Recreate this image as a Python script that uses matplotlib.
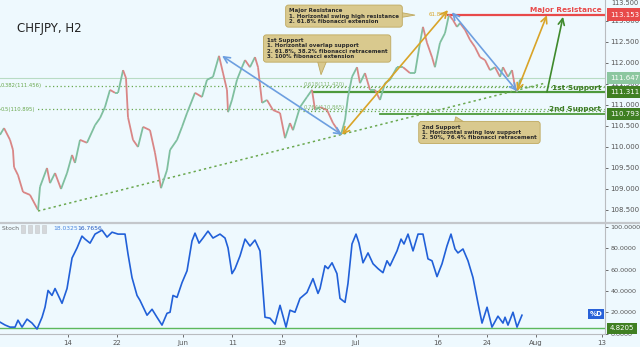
import numpy as np
import matplotlib.pyplot as plt
import matplotlib.transforms as mtransforms
from matplotlib.collections import LineCollection
from matplotlib.patches import Polygon
from matplotlib.lines import Line2D

# ============================================================
# DATA  (x = trading days counted from Mon 14 May 2018)
# ============================================================
price_day = [-8.28, -7.79, -7.06, -6.70, -6.57, -6.09, -5.48, -4.63, -3.65, -3.41,
             -2.56, -2.19, -1.58, -0.85, -0.12, 0.49, 0.85, 1.46, 2.31, 3.29,
             3.90, 4.50, 5.11, 5.72, 6.09, 6.70, 7.06, 7.30, 7.91, 8.52,
             9.13, 9.98, 10.59, 11.32, 12.05, 12.42, 13.27, 13.88, 14.49, 15.46,
             16.31, 16.92, 17.65, 18.38, 18.87, 19.35, 19.48, 19.96, 20.57, 21.18,
             21.55, 22.15, 22.76, 23.13, 23.62, 24.22, 24.95, 25.81, 26.42, 27.02,
             27.39, 28.24, 29.09, 29.70, 30.07, 30.68, 31.53, 32.26, 33.23, 33.72,
             34.08, 34.57, 35.18, 35.54, 36.15, 36.76, 37.37, 37.98, 38.59, 39.20,
             40.05, 40.78, 41.63, 42.24, 42.85, 43.21, 43.70, 44.31, 44.67, 45.28,
             45.89, 46.38, 46.87, 47.35, 47.72, 48.33, 48.94, 49.54, 50.15, 50.76,
             51.37, 51.98, 52.59, 52.95, 53.56, 54.05, 54.41, 54.66, 55.02, 55.39]
price_val = [110.29, 110.45, 110.17, 109.93, 109.52, 109.33, 108.93, 108.86, 108.50, 109.05,
             109.50, 109.14, 109.38, 109.00, 109.38, 109.81, 109.62, 110.17, 110.10, 110.52,
             110.69, 110.95, 111.36, 111.29, 111.29, 111.83, 111.64, 110.71, 110.17, 110.00,
             110.48, 110.40, 109.86, 109.02, 109.45, 109.93, 110.17, 110.48, 110.81, 111.29,
             111.19, 111.60, 111.67, 112.17, 111.76, 111.36, 110.83, 111.12, 111.60, 111.90,
             112.07, 111.90, 112.14, 111.90, 111.05, 111.12, 110.88, 110.81, 110.21, 110.57,
             110.40, 110.95, 111.19, 111.36, 110.88, 110.95, 110.88, 110.57, 110.29, 110.64,
             111.19, 111.67, 111.90, 111.52, 111.76, 111.36, 111.36, 111.12, 111.52, 111.60,
             111.90, 111.90, 111.76, 111.76, 112.48, 112.86, 112.48, 112.14, 111.90, 112.48,
             112.71, 113.15, 113.02, 112.86, 112.95, 112.79, 112.55, 112.38, 112.14, 112.07,
             111.83, 111.90, 111.67, 111.90, 111.67, 111.83, 111.43, 111.31, 111.60, 111.64]

stoch_day = [-8.28, -7.67, -7.06, -6.45, -6.09, -5.60, -4.99, -4.38, -3.77, -3.16,
             -2.80, -2.43, -1.95, -1.58, -0.73, -0.12, 0.49, 1.10, 1.70, 2.07,
             2.68, 3.29, 4.14, 4.75, 5.36, 6.09, 6.94, 7.30, 7.79, 8.40,
             8.76, 9.62, 10.23, 10.83, 11.44, 12.05, 12.42, 12.78, 13.27, 13.88,
             14.49, 15.09, 15.46, 15.95, 16.43, 17.04, 17.65, 18.50, 19.11, 19.48,
             19.96, 20.33, 20.94, 21.55, 22.15, 22.76, 23.37, 23.98, 24.59, 25.20,
             25.81, 26.54, 27.02, 27.63, 28.24, 29.09, 29.82, 30.43, 30.68, 31.28,
             31.65, 32.14, 32.74, 33.11, 33.72, 34.08, 34.57, 35.06, 35.42, 35.91,
             36.52, 37.13, 37.74, 38.34, 38.83, 39.20, 40.05, 40.54, 40.90, 41.39,
             42.00, 42.61, 43.21, 43.82, 44.31, 44.92, 45.53, 46.13, 46.62, 47.11,
             47.47, 48.08, 48.69, 49.30, 49.91, 50.40, 51.01, 51.61, 52.34, 52.95,
             53.20, 53.56, 54.17, 54.66, 55.26]
stoch_val = [10.7, 8.0, 6.0, 6.0, 12.5, 6.0, 13.5, 9.8, 4.2, 15.3,
             24.7, 40.5, 35.8, 42.3, 28.4, 42.3, 71.0, 80.5, 91.6, 88.8,
             85.0, 93.5, 97.2, 90.7, 95.3, 93.5, 93.5, 74.9, 52.6, 35.8,
             31.2, 17.2, 22.8, 15.3, 7.9, 19.0, 20.0, 35.8, 34.0, 47.9,
             59.0, 87.0, 94.4, 85.0, 89.8, 96.3, 89.8, 93.5, 89.8, 80.5,
             56.3, 61.0, 73.0, 88.8, 82.3, 87.9, 77.7, 15.3, 14.4, 8.8,
             26.5, 6.0, 21.9, 20.0, 33.0, 38.6, 51.6, 37.7, 42.3, 63.7,
             61.0, 66.5, 56.3, 33.0, 29.3, 47.0, 84.2, 93.5, 85.0, 66.5,
             75.8, 65.6, 61.0, 57.2, 68.4, 63.7, 77.7, 88.8, 84.2, 93.5,
             77.7, 93.5, 93.5, 70.2, 68.4, 53.5, 65.6, 82.3, 93.5, 79.5,
             75.8, 79.5, 68.4, 52.6, 28.4, 9.8, 24.7, 6.0, 16.3, 9.8,
             15.3, 7.9, 20.0, 6.0, 17.2]

tick_days = [0, 6, 14, 20, 26, 35, 45, 51, 57, 65]
tick_labels = ['14', '22', 'Jun', '11', '19', 'Jul', '16', '24', 'Aug', '13']

major_res = 113.153
sup1 = 111.311
sup2 = 110.793
last_level = 111.647
fib_left = [(0.382, 111.456), (0.5, 110.895)]
fib_right = [(0.618, 111.420), (0.764, 110.865)]
stoch_last = 4.8205
stoch_k, stoch_d = 18.0325, 16.7656

# trend / arrow anchor points (day, price)
trend_pts = [(-3.65, 108.476), (58.06, 111.52)]
blue_arrows = [((18.75, 112.17), (33.35, 110.29)), ((46.74, 113.21), (54.66, 111.33))]
gold_arrows = [((33.35, 110.29), (46.26, 113.26)), ((54.66, 111.33), (58.30, 113.14))]
green_arrow = ((58.30, 111.31), (60.26, 113.10))

# ============================================================
# STYLE
# ============================================================
BG = '#eef9fe'
GRID_GREY = '#b9bcc0'
UP_C = '#7fbf9f'
DN_C = '#d98686'
FIB_C = '#6aa84f'
SUP_C = '#4e9a3c'
LAB_SUP = '#3e7d26'
RED = '#e84a4a'
BLUE = '#6d9fe0'
GOLD = '#d9a428'
DKGREEN = '#3f8a2c'
BOX_FC = '#d9c98e'
BOX_EC = '#bfa95f'

W, H = 640, 347
fig = plt.figure(figsize=(W / 100, H / 100), dpi=100)
fig.patch.set_facecolor(BG)

ax = fig.add_axes([0, 1 - 222 / H, 605 / W, 222 / H])
ax2 = fig.add_axes([0, 13 / H, 605 / W, 110 / H])

xlim = (-8.28, 65.37)
for a in (ax, ax2):
    a.set_facecolor(BG)
    a.set_xlim(*xlim)
    a.yaxis.tick_right()
    a.tick_params(axis='y', labelsize=5, colors='#555555', length=2, pad=2, width=0.6)
    for s in ('top', 'left'):
        a.spines[s].set_visible(False)
    a.spines['right'].set_color(GRID_GREY)
    a.spines['right'].set_linewidth(0.8)

ax.set_ylim(108.214, 113.5)
ax.set_yticks(np.arange(108.5, 113.01, 0.5))
ax.set_yticklabels(['%.3f' % v for v in np.arange(108.5, 113.01, 0.5)])
ax.set_xticks([])
ax.spines['bottom'].set_visible(False)
# top label sits at the very top edge of the pane
ax.text(1.01, 0.998, '113.500', transform=ax.transAxes, fontsize=4.8, color='#555555',
        ha='left', va='top')

ax2.set_ylim(-0.47, 103)
ax2.set_yticks([0, 20, 40, 60, 80, 100])
ax2.set_yticklabels(['%.4f' % v for v in [0, 20, 40, 60, 80, 100]])
ax2.tick_params(axis='y', labelsize=4.6)
ax2.set_xticks(tick_days)
ax2.set_xticklabels(tick_labels)
ax2.tick_params(axis='x', labelsize=5, colors='#555555', length=2, pad=2, width=0.6)
ax2.spines['bottom'].set_color(GRID_GREY)
ax2.spines['bottom'].set_linewidth(0.8)

# pane separator
fig.add_artist(Line2D([0, 1], [1 - 223 / H] * 2, color='#c4c7cb', lw=1.6, transform=fig.transFigure))

# ============================================================
# PRICE PANE
# ============================================================
pts = np.column_stack([price_day, price_val])
segs = np.stack([pts[:-1], pts[1:]], axis=1)
cols = [UP_C if b >= a else DN_C for a, b in zip(price_val[:-1], price_val[1:])]
ax.add_collection(LineCollection(segs, colors=cols, linewidths=1.3, zorder=3))

ax.axhline(last_level, color='#b8dcc4', lw=0.8, zorder=1)
for r, v in fib_left:
    ax.axhline(v, color=FIB_C, lw=0.9, ls=(0, (1, 2)), zorder=2)
    ax.text(-8.15, v, '%g(%.3f)' % (r, v), color=FIB_C, fontsize=3.8, ha='left',
            va='center', zorder=4,
            bbox=dict(boxstyle='square,pad=0.1', fc=BG, ec='none'))
for r, v in fib_right:
    ax.plot([28.6, xlim[1]], [v, v], color=FIB_C, lw=0.9, ls=(0, (1, 2)), zorder=2)
    ax.text(28.7, v + 0.02, '%g(%.3f)' % (r, v), color=FIB_C, fontsize=3.8, ha='left',
            va='bottom', zorder=4, alpha=0.8)

ax.plot([29.8, xlim[1]], [sup1, sup1], color=SUP_C, lw=1.6, zorder=2)
ax.plot([38.0, xlim[1]], [sup2, sup2], color=SUP_C, lw=1.3, zorder=2)
ax.plot([46.3, xlim[1]], [major_res, major_res], color=RED, lw=1.6, zorder=2)

ax.plot([p[0] for p in trend_pts], [p[1] for p in trend_pts], color=FIB_C, lw=1.1,
        ls=(0, (1.5, 2)), zorder=2)

def arrow(p0, p1, color, style='<->'):
    ax.annotate('', xy=p1, xytext=p0, zorder=5,
                arrowprops=dict(arrowstyle=style + ',head_length=0.45,head_width=0.22',
                                color=color, lw=1.2, shrinkA=0, shrinkB=0))

for p0, p1 in blue_arrows:
    arrow(p0, p1, BLUE)
for p0, p1 in gold_arrows:
    arrow(p0, p1, GOLD)
arrow(green_arrow[0], green_arrow[1], DKGREEN, '->')

ax.text(46.0, 113.15, '61.8%', color=GOLD, fontsize=4, ha='right', va='center', zorder=4)

# callout boxes
def callout(x0, y0, tip, base, text):
    ax.add_patch(Polygon([base[0], tip, base[1]], closed=True, fc=BOX_FC, ec=BOX_EC,
                         lw=0.6, zorder=6))
    ax.text(x0, y0, text, fontsize=4, fontweight='bold', color='#2b2b2b', va='top',
            ha='left', linespacing=1.05, zorder=7,
            bbox=dict(boxstyle='round,pad=0.6,rounding_size=0.5', fc=BOX_FC, ec=BOX_EC, lw=0.6))

callout(26.9, 113.30, (42.24, 113.14), [(39.2, 113.25), (39.2, 113.04)],
        'Major Resistance\n1. Horizontal swing high resistance\n2. 61.8% fibonacci extension')
callout(24.2, 112.59, (30.8, 111.72), [(30.3, 112.1), (31.6, 112.1)],
        '1st Support\n1. Horizontal overlap support\n2. 61.8%, 38.2% fibonacci retracement\n'
        '3. 100% fibonacci extension')
callout(43.1, 110.53, (47.2, 110.72), [(47.0, 110.55), (48.6, 110.55)],
        '2nd Support\n1. Horizontal swing low support\n2. 50%, 76.4% fibonacci retracement')

ax.text(-6.2, 112.81, 'CHFJPY, H2', fontsize=8.5, color='#222222', va='center', ha='left')

# level names
ax.text(64.9, major_res + 0.03, 'Major Resistance', color=RED, fontsize=5.3,
        fontweight='bold', ha='right', va='bottom', zorder=6)
ax.text(64.9, sup1 + 0.03, '1st Support', color=LAB_SUP, fontsize=5.3,
        fontweight='bold', ha='right', va='bottom', zorder=6)
ax.text(64.9, sup2 + 0.03, '2nd Support', color=LAB_SUP, fontsize=5.3,
        fontweight='bold', ha='right', va='bottom', zorder=6)

# price tags on the right axis
tr = mtransforms.blended_transform_factory(ax.transAxes, ax.transData)
for v, fc in [(major_res, RED), (last_level, '#8cc7a0'), (sup1, '#3f7f22'), (sup2, '#3f7f22')]:
    ax.text(1.008, v, '%.3f' % v, transform=tr, fontsize=5, color='white',
            ha='left', va='center', zorder=8, clip_on=False,
            bbox=dict(boxstyle='square,pad=0.45', fc=fc, ec='none'))

# ============================================================
# STOCH PANE
# ============================================================
ax2.axhline(stoch_last, color='#5cb85c', lw=1.0, zorder=2)
ax2.plot(stoch_day, stoch_val, color='#2160d8', lw=1.2, zorder=3)

tr2 = mtransforms.blended_transform_factory(ax2.transAxes, ax2.transData)
ax2.text(1.008, stoch_last, '%.4f' % stoch_last, transform=tr2, fontsize=5,
         color='white', ha='left', va='center', zorder=8, clip_on=False,
         bbox=dict(boxstyle='square,pad=0.35', fc='#3f7f22', ec='none'))
ax2.text(0.996, 18.5, '%D', transform=tr2, fontsize=5, color='white', fontweight='bold',
         ha='right', va='center', zorder=8,
         bbox=dict(boxstyle='square,pad=0.25', fc='#2962d9', ec='none'))

fig.text(2 / W, 1 - 229 / H, 'Stoch \u02c5', fontsize=4.3, color='#666666', va='center')
for i in range(4):
    fig.text((22 + 7 * i) / W, 1 - 229 / H, ' ', fontsize=4, va='center',
             bbox=dict(boxstyle='square,pad=0.25', fc='#d4d7da', ec='#c4c7ca', lw=0.4))
fig.text(53 / W, 1 - 229 / H, '%.4f' % stoch_k, fontsize=4.3, color='#4a86e0', va='center')
fig.text(77 / W, 1 - 229 / H, '%.4f' % stoch_d, fontsize=4.3, color='#1f55c0', va='center')

fig.savefig('out.png', dpi=100, facecolor=BG)
